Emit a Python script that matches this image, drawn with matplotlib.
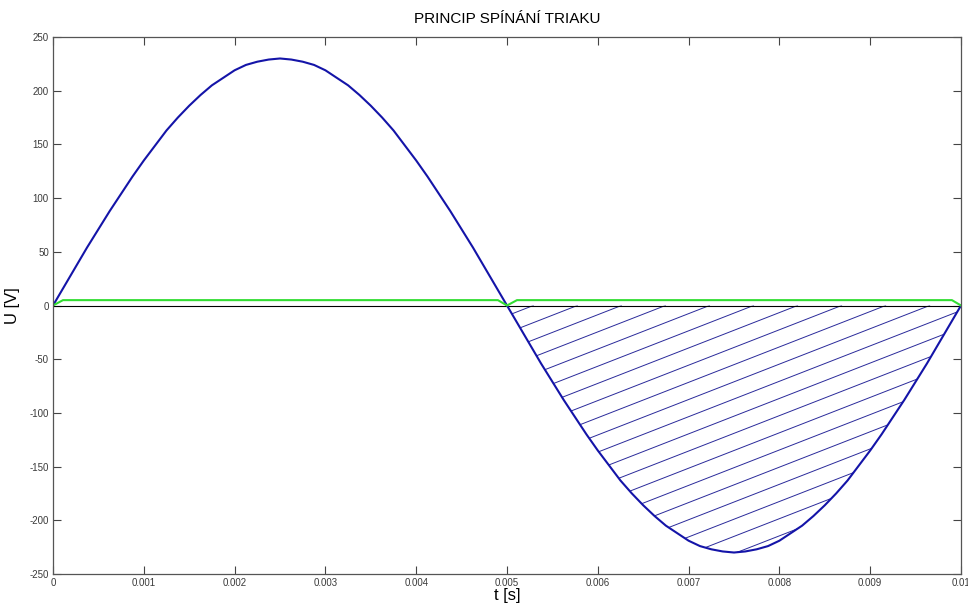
import matplotlib
matplotlib.use("Agg")
import matplotlib.pyplot as plt
import numpy as np
from matplotlib.patches import Polygon

plt.rcParams['font.family'] = ['Liberation Sans', 'DejaVu Sans']
plt.rcParams['axes.unicode_minus'] = False

# cas [s] a napeti site [V] (krok 0.125 ms)
t = [i * 0.000125 for i in range(81)]
u_half = [0, 18, 36, 54, 71, 88, 104, 120, 135, 149,
          163, 175, 186, 196, 205, 212, 219, 224, 227, 229,
          230, 229, 227, 224, 219, 212, 205, 196, 186, 175,
          163, 149, 135, 120, 104, 88, 71, 54, 36, 18]
u = u_half + [0] + [-v for v in u_half[1:]] + [0]

# ridici signal triaku
t_gate = [0.0, 0.00011, 0.0049, 0.005, 0.00511, 0.0099, 0.01]
u_gate = [0, 5, 5, 0, 5, 5, 0]

# sepnuta cast periody (srafovana)
t_on = [x for x in t if x >= 0.005 - 1e-9]
u_on = u[len(t) - len(t_on):]

x_ticks = [0, 0.001, 0.002, 0.003, 0.004, 0.005, 0.006, 0.007, 0.008, 0.009, 0.01]
x_tick_labels = ['0', '0.001', '0.002', '0.003', '0.004', '0.005', '0.006', '0.007', '0.008', '0.009', '0.01']
y_ticks = [-250, -200, -150, -100, -50, 0, 50, 100, 150, 200, 250]

fig = plt.figure(figsize=(9.68, 6.06), dpi=100)
ax = fig.add_axes([53 / 968, 1 - 574 / 606, 908 / 968, 537 / 606])

ax.set_xlim(0, 0.01)
ax.set_ylim(-250, 250)

# srafovani
poly = Polygon(list(zip(t_on, u_on)), closed=True, facecolor='none', edgecolor='none')
ax.add_patch(poly)
slope = 0.39 * (908 / 0.01) / (537 / 500)   # V/s, odpovida sklonu cary v pixelech
for k in range(25):
    x0 = 0.00529 + k * 0.000485
    xs = np.array([0.0045, x0])
    ys = slope * (xs - x0)
    ln, = ax.plot(xs, ys, color='#2a2a9a', linewidth=0.7)
    ln.set_clip_path(poly)

ax.axhline(0, color='black', linewidth=0.8)
ax.plot(t, u, color='#1414a8', linewidth=1.5)
ax.plot(t_gate, u_gate, color='#33dd33', linewidth=1.5)

ax.set_xticks(x_ticks)
ax.set_xticklabels(x_tick_labels)
ax.set_yticks(y_ticks)
ax.tick_params(direction='in', length=6, width=0.8, top=True, right=True,
               labelsize=7, labelcolor='#3a3a3a', color='#444444', pad=3)
for s in ax.spines.values():
    s.set_color('#555555')
    s.set_linewidth(0.9)

ax.set_title('PRINCIP SPÍNÁNÍ TRIAKU', fontsize=11, pad=10)
ax.set_xlabel('t [s]', fontsize=12, labelpad=0)
ax.set_ylabel('U [V]', fontsize=12)
ax.yaxis.set_label_coords(-0.036, 0.5)

fig.savefig('out.png', dpi=100)
